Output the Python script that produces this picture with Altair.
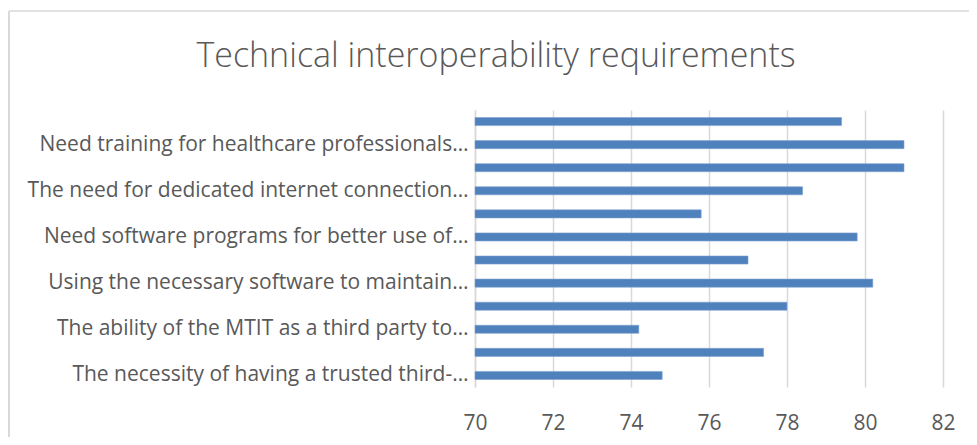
import altair as alt
import pandas as pd

title_text = "Technical interoperability requirements"
labels = [
    "",
    "Need training for healthcare professionals…",
    "",
    "The need for dedicated internet connection…",
    "",
    "Need software programs for better use of…",
    "",
    "Using the necessary software to maintain…",
    "",
    "The ability of the MTIT as a third party to…",
    "",
    "The necessity of having a trusted third-…",
]
values = [79.4, 81.0, 81.0, 78.4, 75.8, 79.8, 77.0, 80.2, 78.0, 74.2, 77.4, 74.8]
x_ticks = [70, 72, 74, 76, 78, 80, 82]

df = pd.DataFrame({"idx": list(range(len(values))), "value": values})

W, H = 468, 277
PAD = {"left": 467, "top": 102, "right": 26, "bottom": 50}
label_expr = "[" + ",".join("'" + s.replace("'", "\\'") + "'" for s in labels) + "][datum.value]"

bars = alt.Chart(df).mark_bar(color="#4F81BD", stroke="#7FA3D3", strokeWidth=0.6).encode(
    y=alt.Y("idx:O", sort="ascending", title=None,
            scale=alt.Scale(paddingInner=0.65, paddingOuter=0.325),
            axis=alt.Axis(labelExpr=label_expr, labelFont="Open Sans", labelFontSize=21,
                          labelColor="#595959", ticks=False, labelPadding=7,
                          domainColor="#D9D9D9", domainWidth=1.5, labelLimit=600)),
    x=alt.X("value:Q", title=None,
            scale=alt.Scale(domain=[70, 82], zero=False, nice=False),
            axis=alt.Axis(values=x_ticks, labelFont="Open Sans", labelFontSize=21,
                          labelColor="#595959", ticks=False, domain=False, labelFlush=False,
                          gridColor="#D9D9D9", gridWidth=1.5, labelPadding=25)),
    x2=alt.datum(70),
)

frame_df = pd.DataFrame({"t": [title_text]})
top_line = alt.Chart(frame_df).mark_rule(color="#D9D9D9", strokeWidth=1.5, clip=False).encode(
    x=alt.value(-466), x2=alt.value(W + PAD["right"]), y=alt.value(-99))
left_line = alt.Chart(frame_df).mark_rule(color="#D9D9D9", strokeWidth=2, clip=False).encode(
    x=alt.value(-466), y=alt.value(-99), y2=alt.value(H + PAD["bottom"]))
title = alt.Chart(frame_df).mark_text(font="Open Sans", fontSize=34, fontWeight=300,
                                      color="#595959", align="center", baseline="alphabetic",
                                      clip=False).encode(
    text="t:N", x=alt.value(21), y=alt.value(-43))

chart = alt.layer(bars, top_line, left_line, title).properties(
    width=W, height=H,
    autosize=alt.AutoSizeParams(type="none"),
    padding=PAD,
).configure_view(stroke=None)

chart.save("out.html", embed_options={"renderer": "svg", "actions": False})
